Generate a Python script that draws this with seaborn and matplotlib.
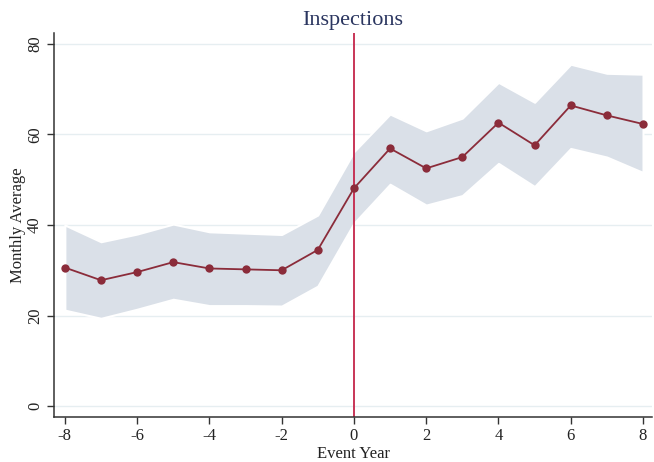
import numpy as np
import pandas as pd
import matplotlib
matplotlib.use("Agg")
import matplotlib.pyplot as plt
import seaborn as sns

years = [-8, -7, -6, -5, -4, -3, -2, -1, 0, 1, 2, 3, 4, 5, 6, 7, 8]
avg = [30.6, 27.8, 29.6, 31.8, 30.4, 30.2, 30.0, 34.5, 48.1, 56.9, 52.5, 55.0, 62.6, 57.6, 66.4, 64.2, 62.3]
upper = [40.0, 36.3, 38.0, 40.2, 38.5, 38.2, 37.9, 42.2, 56.2, 64.5, 60.8, 63.6, 71.5, 67.1, 75.5, 73.5, 73.3]
lower = [21.2, 19.4, 21.4, 23.6, 22.2, 22.2, 22.1, 26.5, 40.4, 49.0, 44.4, 46.5, 53.6, 48.5, 56.9, 55.0, 51.6]
xticks = [-8, -6, -4, -2, 0, 2, 4, 6, 8]
yticks = [0, 20, 40, 60, 80]

df = pd.DataFrame({"year": years, "avg": avg, "upper": upper, "lower": lower})

sns.set_style("white")
plt.rcParams["font.family"] = ["Liberation Serif", "DejaVu Serif"]

fig = plt.figure(figsize=(6.54, 4.62), dpi=100)
ax = fig.add_axes([0.0826, 0.0974, 0.9144, 0.8312])

for y in yticks:
    ax.axhline(y, color="#e6eef1", lw=1.0, zorder=0)

ax.fill_between(df["year"], df["lower"], df["upper"], color="#dae0e8",
                edgecolor="white", linewidth=1.5, zorder=1)
sns.lineplot(data=df, x="year", y="avg", color="#8b2c3a", lw=1.3,
             marker="o", markersize=6, markeredgewidth=0, ax=ax, zorder=3)
ax.axvline(0, color="#c4254a", lw=1.3, zorder=2)

ax.set_xlim(-8.30, 8.25)
ax.set_ylim(-2.4, 82.4)
ax.set_xticks(xticks)
ax.set_xticklabels([str(v) for v in xticks])
ax.set_yticks(yticks)
ax.set_yticklabels([str(v) for v in yticks], rotation=90, va="center")
ax.tick_params(axis="both", which="major", bottom=True, left=True, direction="out",
               length=5, width=1, color="#333333",
               labelsize=12, labelcolor="#222222", pad=3)
ax.tick_params(axis="y", pad=3)
for s in ["top", "right"]:
    ax.spines[s].set_visible(False)
for s in ["left", "bottom"]:
    ax.spines[s].set_color("#333333")
    ax.spines[s].set_linewidth(1.1)

ax.set_xlabel("Event Year", fontsize=12, color="#222222", labelpad=1)
ax.set_ylabel("Monthly Average", fontsize=12, color="#222222", labelpad=1)
ax.set_title("Inspections", fontsize=16, color="#2b3660", pad=6)

fig.savefig("out.png", dpi=100)
